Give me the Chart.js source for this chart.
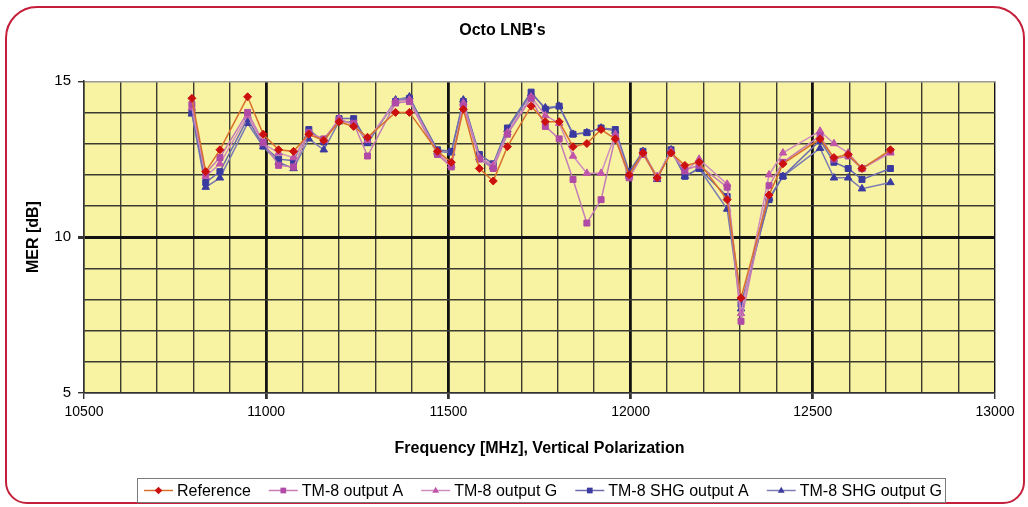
<!DOCTYPE html>
<html>
<head>
<meta charset="utf-8">
<script src="https://cdn.jsdelivr.net/npm/chart.js@4.4.1/dist/chart.umd.min.js"></script>
<style>
  html, body { margin: 0; padding: 0; background: #fff; }
  #wrap { position: relative; width: 1028px; height: 507px; overflow: hidden; }
  #frame { position: absolute; left: 5px; top: 6px; width: 1016px; height: 494px;
           border: 2px solid #C41E3A; border-radius: 32px 32px 22px 22px; }
  canvas { position: absolute; left: 0; top: 0; }
</style>
</head>
<body>
<div id="wrap">
  <div id="frame"></div>
  <canvas id="c" width="1028" height="507"></canvas>
</div>
<script>
// ---- data ----
const frequencies = [10796, 10834, 10873, 10949, 10992, 11034, 11075, 11117, 11158, 11200, 11240, 11278,
  11355, 11393, 11470, 11508, 11541, 11585, 11623, 11662, 11727, 11766, 11804, 11842, 11880, 11919,
  11958, 11996, 12034, 12073, 12111, 12149, 12188, 12265, 12303, 12380, 12418, 12520, 12558, 12597,
  12635, 12713];
const seriesNames = ['Reference', 'TM-8 output A', 'TM-8 output G', 'TM-8 SHG output A', 'TM-8 SHG output G'];
const reference = [14.45, 12.1, 12.8, 14.5, 13.3, 12.8, 12.75, 13.3, 13.1, 13.7, 13.55, 13.2,
  14.0, 14.0, 12.75, 12.4, 14.1, 12.2, 11.8, 12.9, 14.2, 13.7, 13.7, 12.9, 13.0, 13.45,
  13.15, 12.0, 12.7, 11.9, 12.7, 12.3, 12.4, 11.2, 8.05, 11.35, 12.35, 13.15, 12.55, 12.65,
  12.2, 12.8];
const tm8A = [14.25, 12.05, 12.55, 14.0, 13.05, 12.3, 12.25, 13.35, 13.15, 13.75, 13.65, 12.6,
  14.3, 14.35, 12.65, 12.25, 14.2, 12.5, 12.2, 13.3, 14.45, 13.55, 13.15, 11.85, 10.45, 11.2,
  13.2, 11.9, 12.65, 11.9, 12.7, 12.15, 12.3, 11.6, 7.3, 11.65, 12.4, 13.25, 12.5, 12.6,
  12.2, 12.75];
const tm8G = [14.15, 11.95, 12.35, 13.9, 13.0, 12.7, 12.55, 13.3, 13.1, 13.8, 13.6, 13.1,
  14.35, 14.4, 12.7, 12.3, 14.3, 12.55, 12.3, 13.35, 14.5, 13.9, 13.65, 12.6, 12.05, 12.05,
  13.3, 11.95, 12.7, 11.95, 12.75, 12.1, 12.5, 11.7, 7.55, 12.0, 12.7, 13.4, 13.0, 12.7,
  12.2, 12.7];
const shgA = [14.0, 11.75, 12.1, 13.8, 12.92, 12.5, 12.45, 13.45, 13.05, 13.8, 13.8, 13.05,
  14.35, 14.45, 12.8, 12.75, 14.35, 12.65, 12.35, 13.5, 14.65, 14.1, 14.2, 13.3, 13.35, 13.5,
  13.45, 12.1, 12.75, 11.9, 12.8, 11.95, 12.2, 11.3, 7.85, 11.2, 11.95, 13.1, 12.4, 12.2,
  11.85, 12.2];
const shgG = [13.95, 11.6, 11.9, 13.65, 12.9, 12.4, 12.2, 13.15, 12.8, 13.7, 13.7, 13.0,
  14.4, 14.5, 12.75, 12.7, 14.4, 12.55, 12.25, 13.45, 14.6, 14.15, 14.2, 13.3, 13.35, 13.5,
  13.4, 12.0, 12.75, 11.85, 12.8, 11.95, 12.2, 10.9, 7.7, 11.25, 11.95, 12.85, 11.9, 11.9,
  11.55, 11.75];
const xLabelTicks = [10500, 11000, 11500, 12000, 12500, 13000];
const yLabelTicks = [5, 10, 15];
const chartTitle = "Octo LNB's";
const xTitle = 'Frequency [MHz], Vertical Polarization';
const yTitle = 'MER [dB]';

// ---- styles ----
const styles = [
  { line: '#D8702C', marker: '#CC1010', shape: 'diamond' },
  { line: '#C47CB6', marker: '#B04AA6', shape: 'square' },
  { line: '#D08CC0', marker: '#C055AA', shape: 'triangle' },
  { line: '#6C6CAC', marker: '#3A3AA0', shape: 'square' },
  { line: '#7C7CB4', marker: '#3A3AA0', shape: 'triangle' }
];
const chartStyle = { 'diamond': 'rectRot', 'square': 'rect', 'triangle': 'triangle' };
const allSeries = [reference, tm8A, tm8G, shgA, shgG];

const FONT = '"Liberation Sans", Arial, Helvetica, sans-serif';
Chart.defaults.font.family = FONT;
Chart.defaults.color = '#000';

const datasets = allSeries.map((vals, i) => ({
  label: seriesNames[i],
  data: frequencies.map((f, k) => ({ x: f, y: vals[k] })),
  borderColor: styles[i].line,
  borderWidth: 1.5,
  backgroundColor: styles[i].marker,
  pointBackgroundColor: styles[i].marker,
  pointBorderColor: styles[i].marker,
  pointBorderWidth: 1,
  pointStyle: chartStyle[styles[i].shape],
  pointRadius: styles[i].shape === 'diamond' ? 4 : (styles[i].shape === 'square' ? 4.2 : 4.3),
  tension: 0,
  fill: false
}));

const plotBg = {
  id: 'plotBg',
  beforeDraw(chart) {
    const a = chart.chartArea, ctx = chart.ctx;
    ctx.save();
    ctx.fillStyle = '#F8F3A2';
    ctx.fillRect(a.left, a.top, a.right - a.left, a.bottom - a.top);
    ctx.restore();
  }
};

function drawMarker(ctx, shape, x, y, r, color) {
  ctx.fillStyle = color;
  ctx.beginPath();
  if (shape === 'diamond') {
    ctx.moveTo(x, y - r); ctx.lineTo(x + r, y); ctx.lineTo(x, y + r); ctx.lineTo(x - r, y);
  } else if (shape === 'square') {
    ctx.rect(x - r * 0.75, y - r * 0.75, r * 1.5, r * 1.5);
  } else {
    ctx.moveTo(x, y - r); ctx.lineTo(x + r * 0.9, y + r * 0.6); ctx.lineTo(x - r * 0.9, y + r * 0.6);
  }
  ctx.closePath();
  ctx.fill();
}

const boxLegend = {
  id: 'boxLegend',
  afterDraw(chart) {
    const ctx = chart.ctx;
    ctx.save();
    ctx.fillStyle = '#fff';
    ctx.fillRect(137, 478, 808, 24);
    ctx.strokeStyle = '#7a7a7a';
    ctx.lineWidth = 1;
    ctx.strokeRect(137.5, 478.5, 808, 24);
    ctx.font = '16px ' + FONT;
    const names = chart.data.datasets.map(d => d.label);
    const widths = names.map(t => ctx.measureText(t).width);
    const keyW = 29, keyGap = 4;
    const startX = 144, endX = 942;
    const totalText = widths.reduce((a, b) => a + b, 0);
    const gap = (endX - startX - totalText - names.length * (keyW + keyGap)) / (names.length - 1);
    let x = startX;
    const y = 490.5;
    names.forEach((t, i) => {
      ctx.strokeStyle = styles[i].line;
      ctx.lineWidth = 1.5;
      ctx.beginPath(); ctx.moveTo(x, y); ctx.lineTo(x + keyW, y); ctx.stroke();
      drawMarker(ctx, styles[i].shape, x + keyW / 2, y, 3.8, styles[i].marker);
      ctx.fillStyle = '#000';
      ctx.textBaseline = 'middle';
      ctx.textAlign = 'left';
      ctx.fillText(t, x + keyW + keyGap, y + 1);
      x += keyW + keyGap + widths[i] + gap;
    });
    ctx.restore();
  }
};

new Chart(document.getElementById('c'), {
  type: 'line',
  data: { datasets },
  plugins: [plotBg, boxLegend],
  options: {
    responsive: false,
    animation: false,
    devicePixelRatio: 1,
    layout: { padding: { left: 10, right: 33, top: 0, bottom: 44 } },
    plugins: {
      legend: { display: false },
      tooltip: { enabled: false },
      title: {
        display: true, text: chartTitle, color: '#000',
        font: { size: 16, weight: 'bold', family: FONT },
        padding: { top: 21, bottom: 41 }
      }
    },
    scales: {
      x: {
        type: 'linear', min: 10500, max: 13000,
        afterFit: s => { s.height = 70; },
        ticks: {
          stepSize: 100, autoSkip: false, maxRotation: 0, padding: 5,
          font: { size: 14 }, color: '#000',
          callback: v => xLabelTicks.includes(v) ? String(v) : ''
        },
        grid: {
          drawTicks: true, tickLength: 6,
          tickColor: c => xLabelTicks.includes(c.tick && c.tick.value) ? '#333' : 'rgba(0,0,0,0)',
          color: c => (c.tick && c.tick.value % 500 === 0) ? '#111' : '#3a3a30',
          lineWidth: c => {
            const v = c.tick && c.tick.value;
            if (v === 10500 || v === 13000) return 1.4;
            return v % 500 === 0 ? 2.8 : 1.4;
          }
        },
        border: { display: true, color: '#333', width: 1.5 },
        title: {
          display: true, text: xTitle, color: '#000',
          font: { size: 16, weight: 'bold', family: FONT },
          padding: { top: 0, bottom: 5 }
        }
      },
      y: {
        type: 'linear', min: 5, max: 15,
        afterFit: s => { s.width = 74; },
        ticks: {
          stepSize: 1, autoSkip: false, padding: 7,
          font: { size: 15 }, color: '#000',
          callback: v => yLabelTicks.includes(v) ? String(v) : ''
        },
        grid: {
          drawTicks: true, tickLength: 6,
          tickColor: c => yLabelTicks.includes(c.tick && c.tick.value) ? '#333' : 'rgba(0,0,0,0)',
          color: c => {
            const v = c.tick && c.tick.value;
            if (v === 15) return '#9a9a9a';
            if (v === 10) return '#111';
            return '#3a3a30';
          },
          lineWidth: c => {
            const v = c.tick && c.tick.value;
            if (v === 10) return 3;
            return 1.4;
          }
        },
        border: { display: true, color: '#333', width: 1.5 },
        title: {
          display: true, text: yTitle, color: '#000',
          font: { size: 16, weight: 'bold', family: FONT },
          padding: { top: 14, bottom: 0 }
        }
      }
    }
  }
});
</script>
</body>
</html>
